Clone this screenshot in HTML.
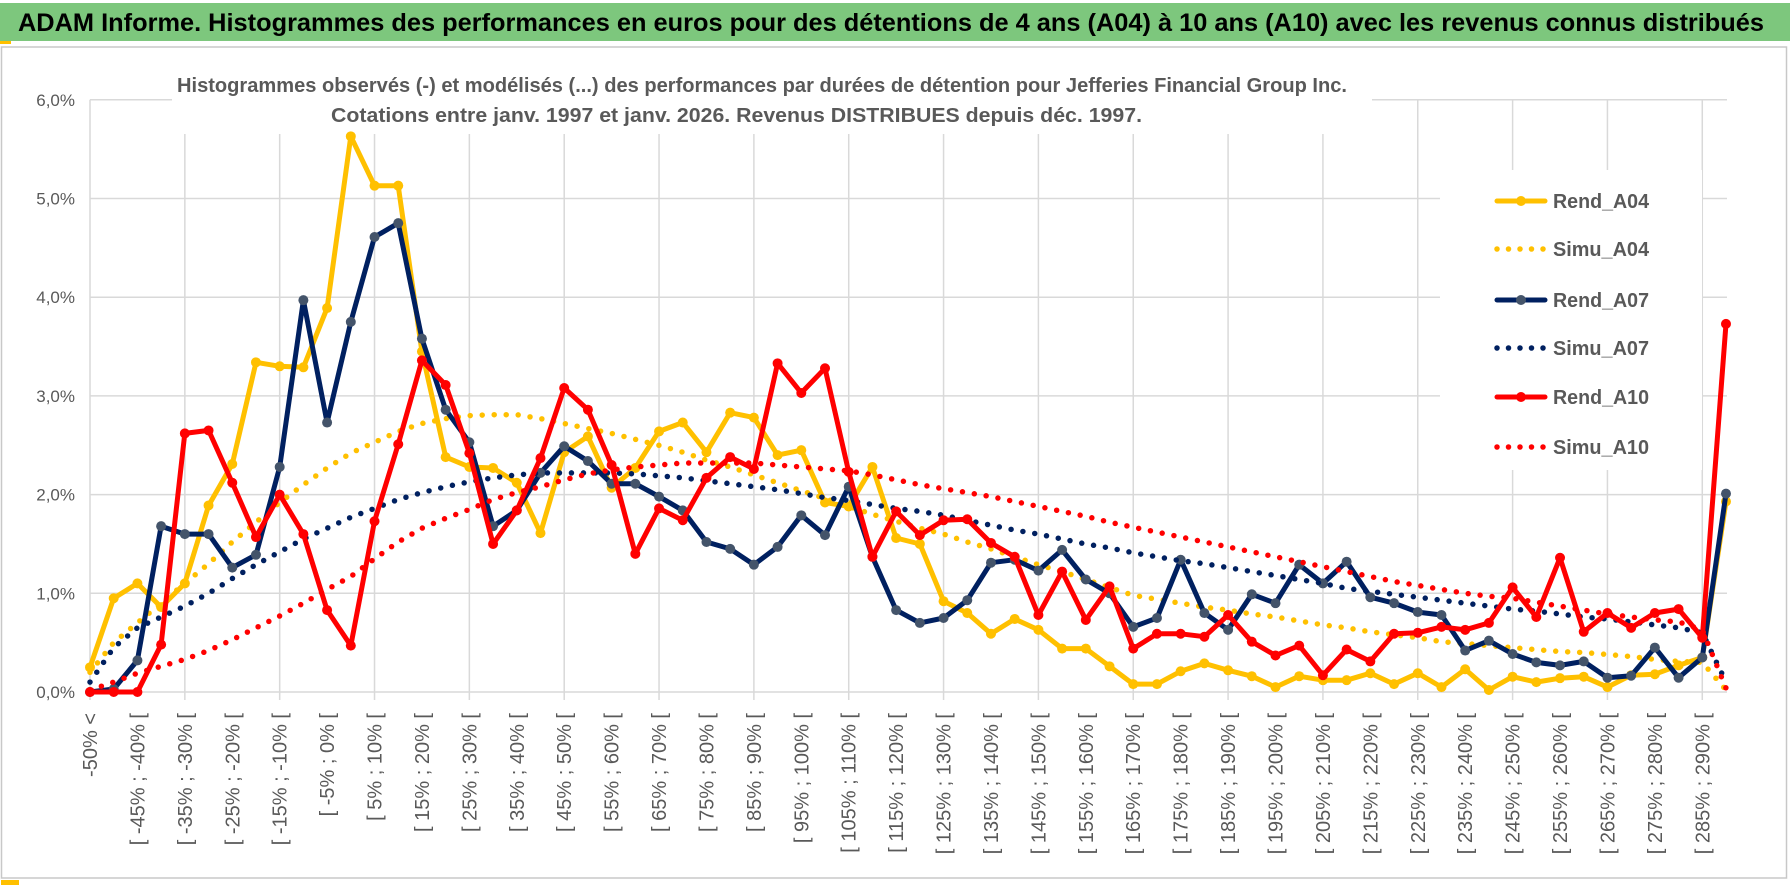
<!DOCTYPE html>
<html><head><meta charset="utf-8"><title>ADAM Informe - Jefferies</title>
<style>
html,body{margin:0;padding:0;background:#fff;}
svg{display:block;font-family:"Liberation Sans",Arial,sans-serif;}
</style></head>
<body>
<svg id="chart" width="1790" height="888" viewBox="0 0 1790 888" xmlns="http://www.w3.org/2000/svg">
  <rect x="0" y="0" width="1790" height="888" fill="#ffffff"/>
  <rect x="0" y="3" width="1790" height="38" fill="#7DC77D"/>
  <text x="18" y="31" font-size="25" font-weight="bold" fill="#000" textLength="1746" lengthAdjust="spacingAndGlyphs">ADAM Informe. Histogrammes des performances en euros pour des détentions de 4 ans (A04) à 10 ans (A10) avec les revenus connus distribués</text>
  <rect x="0" y="41" width="11" height="3" fill="#FFC000"/>
  <rect x="1.5" y="47" width="1785" height="831" fill="none" stroke="#c8c8c8" stroke-width="1.5"/>
  <rect x="1" y="880" width="18" height="5" fill="#FFC000"/>
  <g id="grid"></g>
  <rect x="172" y="62" width="1200" height="72" fill="#fff"/>
  <text x="177" y="92" font-size="20" font-weight="bold" fill="#595959" textLength="1170" lengthAdjust="spacingAndGlyphs">Histogrammes observés (-) et modélisés (...) des performances par durées de détention pour Jefferies Financial Group Inc.</text>
  <text x="331" y="122" font-size="20" font-weight="bold" fill="#595959" textLength="811" lengthAdjust="spacingAndGlyphs">Cotations entre janv. 1997 et janv. 2026. Revenus DISTRIBUES depuis déc. 1997.</text>
  <g id="yaxis"></g>
  <g id="xaxis"></g>
  <g id="series"></g>
  <g id="legend"></g>
</svg>
<script>
const categories = ["-50% <","[ -50% ; -45% [","[ -45% ; -40% [","[ -40% ; -35% [","[ -35% ; -30% [","[ -30% ; -25% [","[ -25% ; -20% [","[ -20% ; -15% [","[ -15% ; -10% [","[ -10% ; -5% [","[ -5% ; 0% [","[ 0% ; 5% [","[ 5% ; 10% [","[ 10% ; 15% [","[ 15% ; 20% [","[ 20% ; 25% [","[ 25% ; 30% [","[ 30% ; 35% [","[ 35% ; 40% [","[ 40% ; 45% [","[ 45% ; 50% [","[ 50% ; 55% [","[ 55% ; 60% [","[ 60% ; 65% [","[ 65% ; 70% [","[ 70% ; 75% [","[ 75% ; 80% [","[ 80% ; 85% [","[ 85% ; 90% [","[ 90% ; 95% [","[ 95% ; 100% [","[ 100% ; 105% [","[ 105% ; 110% [","[ 110% ; 115% [","[ 115% ; 120% [","[ 120% ; 125% [","[ 125% ; 130% [","[ 130% ; 135% [","[ 135% ; 140% [","[ 140% ; 145% [","[ 145% ; 150% [","[ 150% ; 155% [","[ 155% ; 160% [","[ 160% ; 165% [","[ 165% ; 170% [","[ 170% ; 175% [","[ 175% ; 180% [","[ 180% ; 185% [","[ 185% ; 190% [","[ 190% ; 195% [","[ 195% ; 200% [","[ 200% ; 205% [","[ 205% ; 210% [","[ 210% ; 215% [","[ 215% ; 220% [","[ 220% ; 225% [","[ 225% ; 230% [","[ 230% ; 235% [","[ 235% ; 240% [","[ 240% ; 245% [","[ 245% ; 250% [","[ 250% ; 255% [","[ 255% ; 260% [","[ 260% ; 265% [","[ 265% ; 270% [","[ 270% ; 275% [","[ 275% ; 280% [","[ 280% ; 285% [","[ 285% ; 290% [","[ 290% ; 295% ["];
const rendA04 = [0.25,0.95,1.10,0.86,1.10,1.89,2.31,3.34,3.30,3.29,3.89,5.63,5.13,5.13,3.45,2.38,2.28,2.27,2.12,1.61,2.43,2.59,2.07,2.27,2.64,2.73,2.43,2.83,2.78,2.40,2.45,1.92,1.88,2.28,1.56,1.50,0.92,0.80,0.59,0.74,0.63,0.44,0.44,0.26,0.08,0.08,0.21,0.29,0.22,0.16,0.05,0.16,0.12,0.12,0.19,0.08,0.19,0.05,0.23,0.02,0.155,0.10,0.14,0.155,0.05,0.17,0.18,0.27,0.35,1.93];
const simuA04 = [0.2,0.5,0.7,0.9,1.1,1.3,1.52,1.72,1.92,2.1,2.27,2.42,2.53,2.64,2.72,2.77,2.8,2.81,2.81,2.77,2.72,2.67,2.62,2.56,2.5,2.43,2.35,2.28,2.2,2.12,2.04,1.96,1.88,1.8,1.73,1.66,1.6,1.52,1.45,1.37,1.29,1.22,1.14,1.06,0.98,0.94,0.9,0.86,0.83,0.79,0.76,0.72,0.68,0.65,0.61,0.58,0.55,0.51,0.49,0.47,0.45,0.43,0.41,0.4,0.38,0.36,0.33,0.31,0.3,0.02];
const rendA07 = [0,0.03,0.32,1.68,1.60,1.60,1.26,1.39,2.28,3.97,2.73,3.75,4.61,4.75,3.58,2.86,2.53,1.68,1.84,2.22,2.49,2.34,2.11,2.11,1.98,1.84,1.52,1.45,1.29,1.47,1.79,1.59,2.08,1.37,0.83,0.70,0.75,0.93,1.31,1.34,1.23,1.44,1.14,1.00,0.66,0.75,1.34,0.80,0.63,0.99,0.90,1.29,1.10,1.32,0.96,0.90,0.81,0.78,0.42,0.52,0.385,0.30,0.27,0.31,0.145,0.165,0.45,0.145,0.35,2.01];
const simuA07 = [0.1,0.45,0.65,0.76,0.87,1.0,1.15,1.29,1.42,1.55,1.66,1.77,1.86,1.95,2.02,2.08,2.13,2.17,2.2,2.22,2.22,2.22,2.22,2.21,2.19,2.17,2.14,2.11,2.08,2.05,2.01,1.97,1.94,1.9,1.86,1.83,1.79,1.74,1.69,1.64,1.6,1.55,1.5,1.46,1.41,1.37,1.33,1.3,1.26,1.22,1.18,1.14,1.1,1.05,1.02,0.99,0.96,0.93,0.9,0.87,0.84,0.82,0.79,0.76,0.74,0.71,0.68,0.65,0.6,0.1];
const rendA10 = [0,0,0,0.48,2.62,2.65,2.12,1.57,2.00,1.60,0.83,0.47,1.73,2.51,3.36,3.11,2.42,1.50,1.84,2.37,3.08,2.86,2.30,1.40,1.86,1.74,2.17,2.38,2.26,3.33,3.03,3.28,2.23,1.37,1.83,1.59,1.74,1.75,1.51,1.37,0.78,1.22,0.73,1.07,0.44,0.59,0.59,0.56,0.78,0.51,0.37,0.47,0.17,0.43,0.31,0.59,0.60,0.66,0.63,0.70,1.06,0.76,1.36,0.61,0.80,0.65,0.80,0.84,0.55,3.73];
const simuA10 = [0.02,0.1,0.19,0.26,0.33,0.42,0.53,0.65,0.77,0.9,1.04,1.17,1.35,1.52,1.66,1.76,1.85,1.95,2.02,2.08,2.15,2.21,2.25,2.28,2.3,2.32,2.32,2.32,2.32,2.3,2.28,2.26,2.24,2.2,2.15,2.1,2.06,2.02,1.98,1.93,1.88,1.83,1.78,1.72,1.67,1.62,1.57,1.52,1.47,1.42,1.37,1.32,1.27,1.22,1.17,1.12,1.08,1.04,1.0,0.97,0.95,0.91,0.87,0.83,0.79,0.76,0.73,0.71,0.63,0.04];
const yTicks = [0,1,2,3,4,5,6];
const yTickLabels = ["0,0%","1,0%","2,0%","3,0%","4,0%","5,0%","6,0%"];
const legendNames = ["Rend_A04","Simu_A04","Rend_A07","Simu_A07","Rend_A10","Simu_A10"];

const NS = "http://www.w3.org/2000/svg";
const X0 = 90, STEP = 23.71, Y0 = 692, YS = 98.7, XR = 1727;
function xs(i){ return X0 + i*STEP; }
function ys(v){ return Y0 - v*YS; }
function mk(tag, attrs, parent){ const e = document.createElementNS(NS, tag); for (const k in attrs) e.setAttribute(k, attrs[k]); parent.appendChild(e); return e; }

const grid = document.getElementById('grid');
for (let t = 0; t < yTicks.length; t++) {
  const g = mk('line', {x1: X0, x2: XR, y1: ys(yTicks[t]), y2: ys(yTicks[t]), stroke: '#d9d9d9', 'stroke-width': 1.5}, grid);
  
  
}
for (let i = 0; i < categories.length; i += 4) {
  const g = mk('line', {x1: xs(i), x2: xs(i), y1: ys(6), y2: Y0 + 8, stroke: '#d9d9d9', 'stroke-width': 1.5}, grid);
  
  
}

const yax = document.getElementById('yaxis');
for (let t = 0; t < yTicks.length; t++) {
  const tx = mk('text', {x: 75, y: ys(yTicks[t]) + 6, 'text-anchor': 'end', 'font-size': 17, fill: '#595959'}, yax);
  tx.textContent = yTickLabels[t];
  
  
}

const xax = document.getElementById('xaxis');
for (let i = 0; i < categories.length; i += 2) {
  const px = xs(i) + 7, py = 713;
  const tx = mk('text', {x: px, y: py, 'text-anchor': 'end', 'font-size': 20, fill: '#595959', transform: 'rotate(-90 ' + px + ' ' + py + ')'}, xax);
  tx.textContent = categories[i];
  
  
}

const ser = document.getElementById('series');
function pts(arr){ return arr.map((v, i) => xs(i).toFixed(1) + ',' + ys(v).toFixed(1)).join(' '); }
function drawRend(arr, color, mcolor, name){
  const g = mk('g', {}, ser);
  
  
  const pl = mk('polyline', {points: pts(arr), fill: 'none', stroke: color, 'stroke-width': 5, 'stroke-linejoin': 'round'}, g);
  
  
  for (let i = 0; i < arr.length; i++) {
    const c = mk('circle', {cx: xs(i), cy: ys(arr[i]), r: 5, fill: mcolor}, g);
    
    
  }
}
function drawSimu(arr, color, name){
  const pl = mk('polyline', {points: pts(arr), fill: 'none', stroke: color, 'stroke-width': 5.5, 'stroke-linecap': 'round', 'stroke-dasharray': '0 12'}, ser);
  
  
}
drawRend(rendA04, '#FFC000', '#FFC000', 'rend-a04');
drawSimu(simuA04, '#FFC000', 'simu-a04');
drawRend(rendA07, '#002060', '#44546A', 'rend-a07');
drawSimu(simuA07, '#002060', 'simu-a07');
drawRend(rendA10, '#FF0000', '#FF0000', 'rend-a10');
drawSimu(simuA10, '#FF0000', 'simu-a10');

const leg = document.getElementById('legend');
const bg = mk('rect', {x: 1440, y: 170, width: 262, height: 300, fill: '#fff'}, leg);


const legY = [201, 249, 300, 348, 397, 447];
const legColors = ['#FFC000','#FFC000','#002060','#002060','#FF0000','#FF0000'];
const legMarker = ['#FFC000', null, '#44546A', null, '#FF0000', null];
for (let k = 0; k < legendNames.length; k++) {
  const g = mk('g', {}, leg);
  
  
  const y = legY[k];
  if (k % 2 === 0) {
    mk('line', {x1: 1497, x2: 1545, y1: y, y2: y, stroke: legColors[k], 'stroke-width': 5, 'stroke-linecap': 'round'}, g);
    mk('circle', {cx: 1521, cy: y, r: 5, fill: legMarker[k]}, g);
  } else {
    mk('line', {x1: 1497, x2: 1545, y1: y, y2: y, stroke: legColors[k], 'stroke-width': 5.5, 'stroke-linecap': 'round', 'stroke-dasharray': '0 11.5'}, g);
  }
  const tx = mk('text', {x: 1553, y: y + 7, 'font-size': 20, 'font-weight': 'bold', fill: '#595959', textLength: 96, lengthAdjust: 'spacingAndGlyphs'}, g);
  tx.textContent = legendNames[k];
}
</script>
</body></html>
